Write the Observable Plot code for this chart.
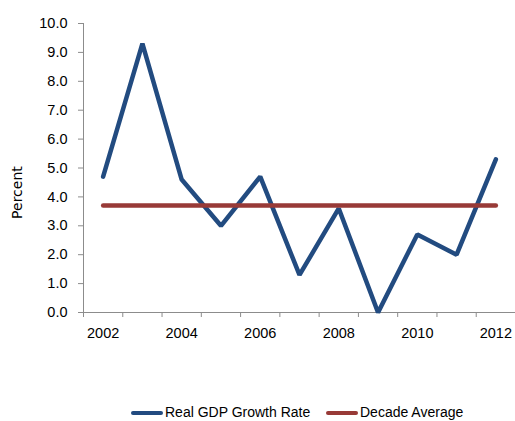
<!DOCTYPE html>
<html>
<head>
<meta charset="utf-8">
<script src="https://cdn.jsdelivr.net/npm/d3@7"></script>
<script src="https://cdn.jsdelivr.net/npm/@observablehq/plot@0.6"></script>
<style>
  html, body { margin: 0; padding: 0; background: #fff; }
  #wrap { position: relative; width: 515px; height: 421px; overflow: hidden; }
  #legend { position: absolute; top: 401px; left: 0; width: 515px; height: 22px;
    font-family: 'Liberation Sans', Arial, sans-serif; font-size: 14px; color: #000; }
  .item { position: absolute; top: 0; display: flex; align-items: center; height: 22px; white-space: nowrap; }
  .sw { display: inline-block; width: 32px; height: 4.5px; border-radius: 2.5px; margin-right: 2px; margin-top: 2px; }
</style>
</head>
<body>
<div id="wrap">
  <div id="chart"></div>
  <div id="legend"></div>
</div>
<script>
const years = [2002, 2003, 2004, 2005, 2006, 2007, 2008, 2009, 2010, 2011, 2012];
const gdpGrowth = [4.7, 9.3, 4.6, 3.0, 4.7, 1.3, 3.6, 0.0, 2.7, 2.0, 5.3];
const decadeAverage = 3.7;
const yTicks = [0, 1, 2, 3, 4, 5, 6, 7, 8, 9, 10];
const xLabelYears = [2002, 2004, 2006, 2008, 2010, 2012];
const seriesNames = ["Real GDP Growth Rate", "Decade Average"];
const seriesColors = ["#224b80", "#983a37"];
const yAxisTitle = "Percent";

const gdpData = years.map((year, i) => ({year, value: gdpGrowth[i]}));
const avgData = years.map(year => ({year, value: decadeAverage}));
const boundaries = [years[0] - 0.5, ...years.map(y => y + 0.5)];

const axisColor = "#8c8c8c";

const chart = Plot.plot({
  width: 515,
  height: 350,
  marginLeft: 83,
  marginRight: 0,
  marginTop: 23,
  marginBottom: 38,
  style: {
    fontFamily: "'Liberation Sans', Arial, sans-serif",
    fontSize: "14.5px",
    background: "white",
    color: "#000"
  },
  x: {domain: [years[0] - 0.5, years[years.length - 1] + 0.5]},
  y: {domain: [0, 10]},
  marks: [
    Plot.ruleY([0], {stroke: axisColor, strokeWidth: 1}),
    Plot.ruleX([years[0] - 0.5], {y1: 0, y2: 10, stroke: axisColor, strokeWidth: 1}),
    Plot.axisY(yTicks, {tickFormat: d => d.toFixed(1), tickSize: 5, tickPadding: 11, stroke: axisColor, label: null, fill: "#000"}),
    Plot.axisX(boundaries, {tickFormat: () => "", tickSize: 5, stroke: axisColor, label: null}),
    Plot.axisX(xLabelYears, {tickFormat: d => String(d), tickSize: 0, tickPadding: 15, label: null, fill: "#000"}),
    Plot.text([yAxisTitle], {x: () => years[0] - 0.5, y: () => 4.15, dx: -66, rotate: -90,
      textAnchor: "middle", fontFamily: "'DejaVu Sans', sans-serif", fontSize: "14px", fill: "#000"}),
    Plot.line(gdpData, {x: "year", y: "value", stroke: seriesColors[0], strokeWidth: 4.5,
      strokeLinejoin: "miter", strokeLinecap: "round"}),
    Plot.line(avgData, {x: "year", y: "value", stroke: seriesColors[1], strokeWidth: 4.5,
      strokeLinecap: "round"})
  ]
});
document.getElementById("chart").appendChild(chart);

const legend = document.getElementById("legend");
const lefts = [131, 326];
seriesNames.forEach((name, i) => {
  const item = document.createElement("div");
  item.className = "item";
  item.style.left = lefts[i] + "px";
  const sw = document.createElement("span");
  sw.className = "sw";
  sw.style.background = seriesColors[i];
  item.appendChild(sw);
  item.appendChild(document.createTextNode(name));
  legend.appendChild(item);
});
</script>
</body>
</html>
